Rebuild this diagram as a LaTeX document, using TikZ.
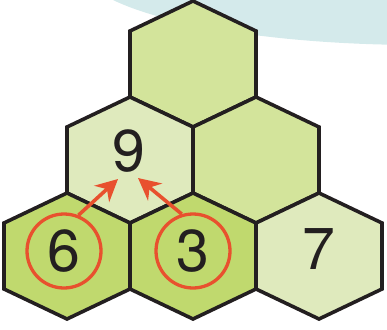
\documentclass[tikz,border=0pt]{standalone}
\usepackage{fontspec}
\setmainfont{TeX Gyre Heros}
\usepackage{tikz}
\usetikzlibrary{arrows.meta,positioning}
\definecolor{skyblob}{HTML}{D4EAEB}
\definecolor{hexmid}{HTML}{D3E49B}
\definecolor{hexpale}{HTML}{DFEABD}
\definecolor{hexdeep}{HTML}{C0D96E}
\definecolor{inkline}{HTML}{231F20}
\definecolor{pointred}{HTML}{E8512E}
\tikzset{
  hexside/.style={draw=inkline, line width=3.6pt, line join=miter},
  digit/.style={font=\fontsize{59}{59}\selectfont, text=inkline,
    inner sep=0pt},
  ring/.style={circle, draw=pointred, line width=3.3pt,
    minimum size=74pt},
  pointer/.style={-{Stealth[length=22pt,width=22pt,inset=7pt]},
    line width=3.6pt, draw=pointred, fill=pointred}
}

\begin{document}
\begin{tikzpicture}[x=1pt, y=-1pt]
  \useasboundingbox (0,0) rectangle (387,329);
  \clip (0,0) rectangle (387,329);
  % backdrop
  \fill[skyblob] (420,-34) ellipse [x radius=340pt, y radius=79pt];

  % honeycomb, top row first
  \foreach \x/\y/\c in {193/64/hexmid, 130/160/hexpale, 256/160/hexmid,
      67/256/hexdeep, 193/256/hexdeep, 319/256/hexpale}
    \path[hexside, fill=\c] (\x-63,\y-33) -- (\x,\y-63) -- (\x+63,\y-33)
      -- (\x+63,\y+33) -- (\x,\y+63) -- (\x-63,\y+33) -- cycle;

  % numbers
  \node[digit] (nine) at (129,151) {9};
  \node[digit, ring] (six) at (64,251) {6};
  \node[digit, ring] (three) at (193,251) {3};
  \node[digit] (seven) at (319,249) {7};

  % sums
  \coordinate (tipsix) at (118,179);
  \coordinate (tipthree) at (138,178);
  \draw[pointer] (six.68) -- (tipsix);
  \draw[pointer] (three.107) -- (tipthree);
\end{tikzpicture}
\end{document}
